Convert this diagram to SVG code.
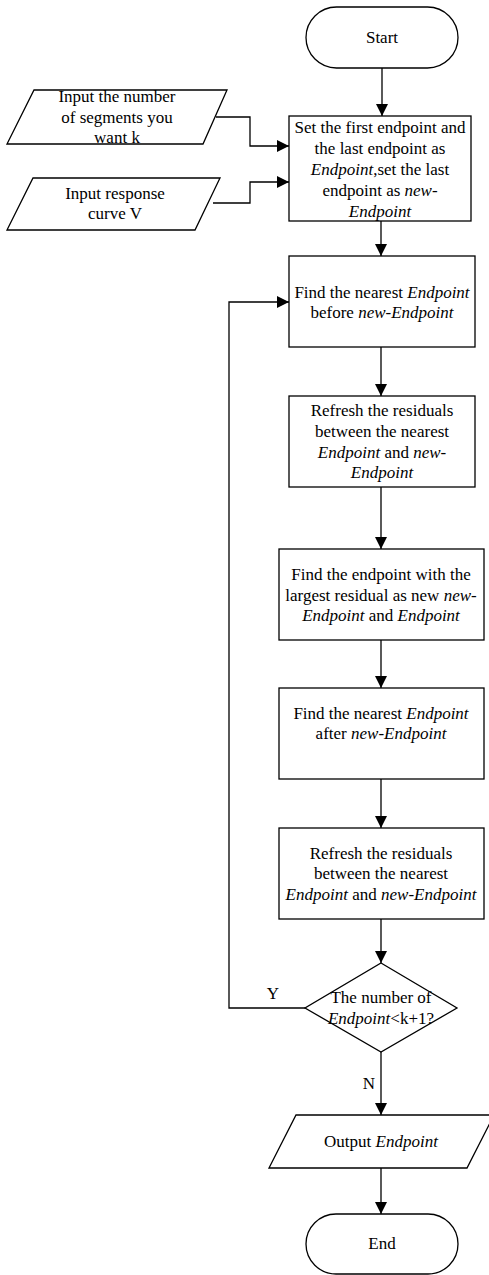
<svg xmlns="http://www.w3.org/2000/svg" width="489" height="1275" viewBox="0 0 489 1275" font-family="'Liberation Serif', 'Times New Roman', serif">
<style>
.s{fill:#fff;stroke:#000;stroke-width:1.3}
.t{font-family:"Liberation Serif","Times New Roman",serif;font-size:17px;fill:#000;text-anchor:middle}
.i{font-style:italic}
.c{fill:none;stroke:#000;stroke-width:1.3}
</style>
<defs>
<marker id="a" markerWidth="12" markerHeight="12" refX="12" refY="6" orient="auto" markerUnits="userSpaceOnUse">
<path d="M0,0 L12,6 L0,12 Z" fill="#000"/>
</marker>
</defs>
<rect width="489" height="1275" fill="#fff"/>
<g id="connectors">
<path class="c" d="M382,68 V116" marker-end="url(#a)"/>
<path class="c" d="M216,117 H250 V146 H289" marker-end="url(#a)"/>
<path class="c" d="M213,203 H250 V182 H289" marker-end="url(#a)"/>
<path class="c" d="M381,221 V256" marker-end="url(#a)"/>
<path class="c" d="M381,347 V396" marker-end="url(#a)"/>
<path class="c" d="M381,487 V549" marker-end="url(#a)"/>
<path class="c" d="M381,640 V688" marker-end="url(#a)"/>
<path class="c" d="M381,779 V828" marker-end="url(#a)"/>
<path class="c" d="M381,919 V963" marker-end="url(#a)"/>
<path class="c" d="M305,1008 H229 V302 H289" marker-end="url(#a)"/>
<path class="c" d="M381,1052 V1115" marker-end="url(#a)"/>
<path class="c" d="M381,1168 V1214" marker-end="url(#a)"/>
<text class="t" x="273" y="999">Y</text>
<text class="t" x="369" y="1089">N</text>
</g>
<g id="start">
<rect class="s" x="306" y="7" width="152" height="61" rx="30.5"/>
<text class="t" x="382" y="43">Start</text>
</g>
<g id="input-k">
<polygon class="s" points="34,90 227,90 203,144 7,144"/>
<text class="t" x="117" y="102">Input the number</text>
<text class="t" x="117" y="123">of segments you</text>
<text class="t" x="117" y="143">want k</text>
</g>
<g id="input-v">
<polygon class="s" points="33,178 220,178 195,230 7,230"/>
<text class="t" x="115" y="199">Input response</text>
<text class="t" x="115" y="219">curve V</text>
</g>
<g id="init">
<rect class="s" x="289" y="116" width="182" height="105"/>
<text class="t" x="380" y="133">Set the first endpoint and</text>
<text class="t" x="380" y="154">the last endpoint as</text>
<text class="t" x="380" y="175"><tspan class="i">Endpoint</tspan>,set the last</text>
<text class="t" x="380" y="196">endpoint as <tspan class="i">new-</tspan></text>
<text class="t" x="380" y="217" font-style="italic">Endpoint</text>
</g>
<g id="find-before">
<rect class="s" x="289" y="256" width="186" height="91"/>
<text class="t" x="382" y="298">Find the nearest <tspan class="i">Endpoint</tspan></text>
<text class="t" x="382" y="318">before <tspan class="i">new-Endpoint</tspan></text>
</g>
<g id="refresh1">
<rect class="s" x="289" y="396" width="186" height="91"/>
<text class="t" x="382" y="416">Refresh the residuals</text>
<text class="t" x="382" y="437">between the nearest</text>
<text class="t" x="382" y="458"><tspan class="i">Endpoint</tspan> and <tspan class="i">new-</tspan></text>
<text class="t" x="382" y="478" font-style="italic">Endpoint</text>
</g>
<g id="largest">
<rect class="s" x="279" y="549" width="205" height="91"/>
<text class="t" x="381" y="580">Find the endpoint with the</text>
<text class="t" x="381" y="601">largest residual as new <tspan class="i">new-</tspan></text>
<text class="t" x="381" y="621"><tspan class="i">Endpoint</tspan> and <tspan class="i">Endpoint</tspan></text>
</g>
<g id="find-after">
<rect class="s" x="279" y="688" width="205" height="91"/>
<text class="t" x="381" y="719">Find the nearest <tspan class="i">Endpoint</tspan></text>
<text class="t" x="381" y="739">after <tspan class="i">new-Endpoint</tspan></text>
</g>
<g id="refresh2">
<rect class="s" x="279" y="828" width="205" height="91"/>
<text class="t" x="381" y="859">Refresh the residuals</text>
<text class="t" x="381" y="879">between the nearest</text>
<text class="t" x="381" y="900"><tspan class="i">Endpoint</tspan> and <tspan class="i">new-Endpoint</tspan></text>
</g>
<g id="decision">
<polygon class="s" points="381,963 457,1008 381,1052 305,1008"/>
<text class="t" x="381" y="1003">The number of</text>
<text class="t" x="381" y="1024"><tspan class="i">Endpoint</tspan>&lt;k+1?</text>
</g>
<g id="output">
<polygon class="s" points="296,1115 494,1115 467,1168 269,1168"/>
<text class="t" x="381" y="1147">Output <tspan class="i">Endpoint</tspan></text>
</g>
<g id="end">
<rect class="s" x="306" y="1214" width="152" height="60" rx="30"/>
<text class="t" x="382" y="1249">End</text>
</g>
</svg>
